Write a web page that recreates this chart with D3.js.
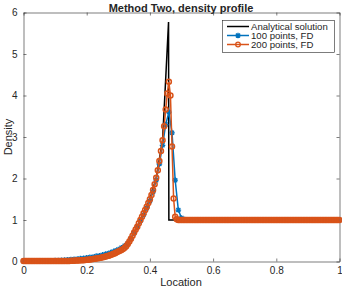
<!DOCTYPE html>
<html><head><meta charset="utf-8">
<style>
body { margin: 0; background: #fff; }
text { font-family: "Liberation Sans", Arial, sans-serif; fill: #262626; }
</style>
</head><body><svg width="342" height="289"></svg>
<script src="https://cdn.jsdelivr.net/npm/d3@7"></script>
<script>

// analytical solution
var exactX = [0, 0.1, 0.15, 0.2, 0.25, 0.3, 0.33, 0.35, 0.37, 0.4, 0.42, 0.44, 0.448, 0.459, 0.46, 0.473, 1];
var exactY = [0, 0.01, 0.015, 0.03, 0.1, 0.24, 0.42, 0.7, 1.0, 1.5, 2.02, 2.92, 4.1, 5.77, 1, 1, 1];

// 100 points, FD  (x = 0 .. 1, step 0.01)
var fd100 = [
  0.01, 0.01, 0.01, 0.01, 0.01, 0.01, 0.01, 0.01, 0.01,
  0.015, 0.02, 0.025, 0.03, 0.035, 0.04, 0.05, 0.055, 0.06, 0.07,
  0.08, 0.09, 0.1, 0.11, 0.13, 0.14, 0.16, 0.18, 0.2, 0.23,
  0.26, 0.29, 0.33, 0.38, 0.44, 0.55, 0.68, 0.83, 0.98, 1.13,
  1.29, 1.46, 1.68, 1.96, 2.35, 2.8, 3.3, 3.6, 3.1, 1.96,
  1.24, 1.05, 1.01,
  1, 1, 1, 1, 1, 1, 1, 1, 1, 1, 1, 1, 1, 1, 1, 1, 1, 1, 1, 1,
  1, 1, 1, 1, 1, 1, 1, 1, 1, 1, 1, 1, 1, 1, 1, 1, 1, 1, 1, 1,
  1, 1, 1, 1, 1, 1, 1, 1, 1
];

// 200 points, FD  (x = 0 .. 1, step 0.005)
var fd200 = [
  0.01, 0.01, 0.01, 0.01, 0.01, 0.01, 0.01, 0.01, 0.01, 0.01, 0.01,
  0.01, 0.01, 0.01, 0.01, 0.01, 0.01, 0.01, 0.01, 0.01, 0.01,
  0.01, 0.01, 0.01, 0.01, 0.01, 0.012, 0.012, 0.014, 0.015, 0.016,
  0.018, 0.02, 0.022, 0.024, 0.026, 0.028, 0.03, 0.033, 0.036, 0.04,
  0.045, 0.05, 0.055, 0.06, 0.066, 0.072, 0.078, 0.085, 0.092, 0.1,
  0.11, 0.12, 0.13, 0.14, 0.155, 0.17, 0.185, 0.2, 0.22, 0.24,
  0.26, 0.28, 0.3, 0.33, 0.37, 0.42, 0.48, 0.55, 0.62, 0.7,
  0.77, 0.84, 0.92, 1.0, 1.08, 1.16, 1.24, 1.32, 1.41, 1.5,
  1.6, 1.72, 1.86, 2.02, 2.2, 2.42, 2.66, 2.92, 3.26, 3.66,
  4.05, 4.33, 4.0, 2.77, 1.52, 1.08, 1.02,
  1, 1, 1, 1, 1, 1, 1, 1, 1, 1, 1, 1, 1, 1, 1, 1, 1, 1, 1, 1,
  1, 1, 1, 1, 1, 1, 1, 1, 1, 1, 1, 1, 1, 1, 1, 1, 1, 1, 1, 1,
  1, 1, 1, 1, 1, 1, 1, 1, 1, 1, 1, 1, 1, 1, 1, 1, 1, 1, 1, 1,
  1, 1, 1, 1, 1, 1, 1, 1, 1, 1, 1, 1, 1, 1, 1, 1, 1, 1, 1, 1,
  1, 1, 1, 1, 1, 1, 1, 1, 1, 1, 1, 1, 1, 1, 1, 1, 1, 1, 1, 1,
  1, 1, 1
];

var xTicks = [0, 0.2, 0.4, 0.6, 0.8, 1];
var yTicks = [0, 1, 2, 3, 4, 5, 6];
var legendNames = ["Analytical solution", "100 points, FD", "200 points, FD"];

var blue = "#0072bd", orange = "#d95319", ink = "#262626";

var svg = d3.select("svg"),
    x0 = 23.5, x1 = 339.5, y0 = 261.5, y1 = 12.5;

var x = d3.scaleLinear().domain([0, 1]).range([x0, x1]);
var y = d3.scaleLinear().domain([0, 6]).range([y0, y1]);

function styleAxis(g) {
  g.selectAll("path, line").attr("stroke", ink).attr("stroke-width", 0.6);
  g.selectAll("text").attr("fill", ink).style("font-size", "10px")
    .style("font-family", '"Liberation Sans", Arial, sans-serif');
}

svg.append("g").attr("transform", "translate(0," + y0 + ")")
    .call(d3.axisBottom(x).tickValues(xTicks).tickFormat(d3.format("")).tickSizeInner(-3).tickSizeOuter(0).tickPadding(5))
    .call(styleAxis);
svg.append("g").attr("transform", "translate(0," + y1 + ")")
    .call(d3.axisTop(x).tickValues(xTicks).tickFormat("").tickSizeInner(-3).tickSizeOuter(0))
    .call(styleAxis);
svg.append("g").attr("transform", "translate(" + x0 + ",0)")
    .call(d3.axisLeft(y).tickValues(yTicks).tickFormat(d3.format("d")).tickSizeInner(-3).tickSizeOuter(0).tickPadding(6))
    .call(styleAxis);
svg.append("g").attr("transform", "translate(" + x1 + ",0)")
    .call(d3.axisRight(y).tickValues(yTicks).tickFormat("").tickSizeInner(-3).tickSizeOuter(0))
    .call(styleAxis);

var line = d3.line().x(function(d) { return x(d[0]); }).y(function(d) { return y(d[1]); });

var exact = exactX.map(function(v, i) { return [v, exactY[i]]; });
var s100 = fd100.map(function(v, i) { return [i / (fd100.length - 1), v]; });
var s200 = fd200.map(function(v, i) { return [i / (fd200.length - 1), v]; });

var plot = svg.append("g");

plot.append("path").datum(exact).attr("d", line)
    .attr("fill", "none").attr("stroke", "#000").attr("stroke-width", 1.5);

function asterisk(g, cx, cy, r) {
  var d = r * 0.72;
  g.append("path")
    .attr("d", "M" + (cx - r) + "," + cy + "H" + (cx + r) +
               "M" + cx + "," + (cy - r) + "V" + (cy + r) +
               "M" + (cx - d) + "," + (cy - d) + "L" + (cx + d) + "," + (cy + d) +
               "M" + (cx - d) + "," + (cy + d) + "L" + (cx + d) + "," + (cy - d))
    .attr("stroke", blue).attr("stroke-width", 1.3).attr("fill", "none");
}

plot.append("path").datum(s100).attr("d", line)
    .attr("fill", "none").attr("stroke", blue).attr("stroke-width", 1.5);
var m100 = plot.append("g");
s100.forEach(function(d) { asterisk(m100, x(d[0]), y(d[1]), 2.8); });

plot.append("path").datum(s200).attr("d", line)
    .attr("fill", "none").attr("stroke", orange).attr("stroke-width", 1.5);
plot.append("g").selectAll("circle").data(s200).join("circle")
    .attr("cx", function(d) { return x(d[0]); })
    .attr("cy", function(d) { return y(d[1]); })
    .attr("r", 2.5)
    .attr("fill", "none").attr("stroke", orange).attr("stroke-width", 1.5);

// legend
var lg = svg.append("g");
lg.append("rect").attr("x", 222.5).attr("y", 20.5).attr("width", 112).attr("height", 32)
    .attr("fill", "#fff").attr("stroke", ink).attr("stroke-width", 0.6);
var colors = ["#000", blue, orange];
legendNames.forEach(function(name, i) {
  var ly = 26.5 + i * 9;
  lg.append("line").attr("x1", 227).attr("x2", 249).attr("y1", ly).attr("y2", ly)
    .attr("stroke", colors[i]).attr("stroke-width", 1.5);
  if (i === 1) asterisk(lg, 238, ly, 2.8);
  if (i === 2) lg.append("circle").attr("cx", 238).attr("cy", ly).attr("r", 2.3)
      .attr("fill", "none").attr("stroke", orange).attr("stroke-width", 1.3);
  lg.append("text").attr("x", 251).attr("y", ly + 3.4).style("font-size", "9.6px").text(name);
});

svg.append("text").attr("x", 181).attr("y", 12).attr("text-anchor", "middle")
    .style("font-size", "11px").style("font-weight", "bold").text("Method Two, density profile");
svg.append("text").attr("x", 181).attr("y", 286).attr("text-anchor", "middle")
    .style("font-size", "11px").text("Location");
svg.append("text").attr("transform", "translate(8," + ((y0 + y1) / 2) + ") rotate(-90)")
    .attr("text-anchor", "middle").attr("dy", "0.35em")
    .style("font-size", "11px").text("Density");

</script>
</body></html>
